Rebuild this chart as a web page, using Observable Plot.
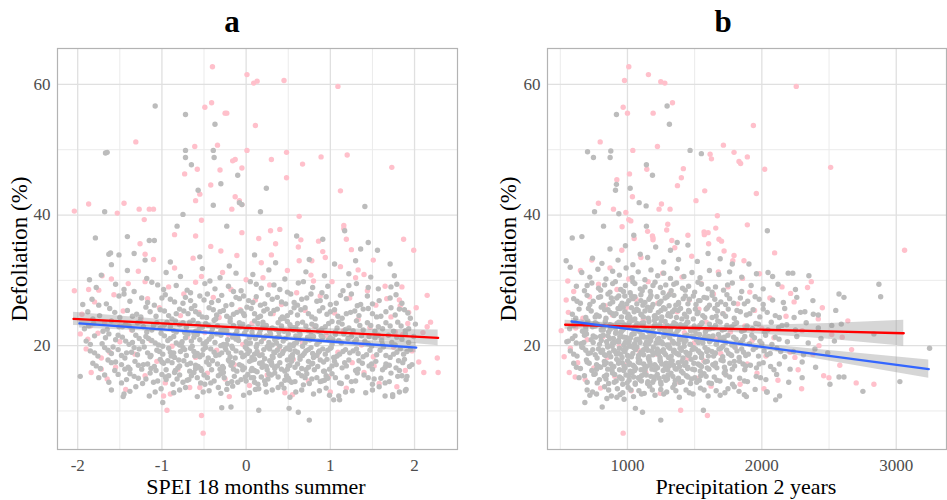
<!DOCTYPE html>
<html><head><meta charset="utf-8">
<script src="https://cdn.jsdelivr.net/npm/d3@7"></script>
<script src="https://cdn.jsdelivr.net/npm/@observablehq/plot@0.6"></script>
<style>
body{margin:0;background:#fff;}
#wrap{position:relative;width:947px;height:500px;overflow:hidden;}
#wrap > svg{position:absolute;top:0;}
</style></head><body><div id="wrap"></div>
<script>
// ---------- shared axis values ----------
const yMajor = [20, 40, 60];
const yMinor = [10, 30, 50];
const aXMajor = [-2, -1, 0, 1, 2];
const aXMinor = [-1.5, -0.5, 0.5, 1.5];
const bXMajor = [1000, 2000, 3000];
const bXMinor = [500, 1500, 2500];

// ---------- panel a: SPEI (x, defoliation) pairs ----------
const aPink = [
-0.40,62.7, 0.01,61.5, 0.09,60.2, 0.13,60.5, 0.45,60.6, 1.09,59.7, -0.41,57.2, -0.49,56.5, -0.25,55.6, -0.23,55.6, 0.11,53.7,
-1.31,51.2, -0.61,50.5, -0.34,50.7, 0.01,49.9, 0.48,49.6, 0.89,48.9, 1.20,49.2, 1.73,47.3, 0.67,47.8, 0.30,48.5, -0.16,48.3, -0.13,48.5,
-0.05,47.2, -0.73,46.3, -0.58,47.0, -0.31,46.9, 0.48,45.7, -0.42,44.6, 1.12,43.7, -0.55,43.2, -0.60,42.2, -0.13,42.8, -0.08,42.2,
-2.04,40.6, -1.87,41.7, -1.45,41.8, -1.27,40.9, -1.15,40.9, -1.10,40.9, -1.53,40.3, -1.21,39.3, -0.17,40.9, -0.05,41.6, -0.53,39.2,
0.63,39.8, 1.16,38.4, 1.16,37.9, 1.19,36.3, 1.87,36.3, 1.99,34.6, 1.51,33.1, 1.33,31.6, 2.15,27.7, 2.02,25.8, 2.19,23.6, 2.27,18.1,
2.28,15.9, 2.11,15.9, 2.15,22.9, 1.92,23.4, -2.04,28.4, -1.97,21.8, -1.88,21.0, -1.84,15.9, -1.72,16.4, -1.87,28.6, -1.71,30.7,
-0.98,12.3, -0.94,10.1, -0.53,9.3, -0.51,6.6, -0.55,13.6, -1.26,35.6, 0.29,37.6, 0.40,37.8, 0.62,35.1, 0.86,36.0, 0.78,33.0, 0.94,33.5,
1.67,27.2, 1.83,26.1,
-1.95,24.8, -1.9,19.5, -1.8,26.7, -1.76,21.9, -1.72,18.1, -1.68,23.5, -1.6,30.2, -1.57,27.8, -1.55,16.7, -1.5,20.6, -1.46,25.3,
-1.43,13.3, -1.4,29.5, -1.36,22.4, -1.32,18.7, -1.28,31.4, -1.25,24.1, -1.2,15.4, -1.17,27.2, -1.13,20.8, -1.1,33.2, -1.06,17.6,
-1.03,25.8, -0.99,22.9, -0.96,14.3, -0.92,29.0, -0.88,19.9, -0.85,31.9, -0.81,16.4, -0.78,24.6, -0.74,27.9, -0.7,21.3, -0.67,13.6,
-0.63,33.4, -0.6,18.2, -0.56,25.1, -0.53,30.6, -0.49,22.0, -0.46,15.8, -0.42,35.2, -0.39,27.4, -0.35,19.3, -0.32,24.3, -0.28,31.2,
-0.25,14.9, -0.21,21.7, -0.18,28.6, -0.14,17.1, -0.11,33.8, -0.07,25.5, -0.04,20.2, 0.0,30.1, 0.04,13.9, 0.07,23.4, 0.11,27.0,
0.14,18.8, 0.18,32.7, 0.21,21.1, 0.25,15.5, 0.28,29.3, 0.32,24.9, 0.35,35.6, 0.39,19.6, 0.42,26.3, 0.46,12.8, 0.49,31.5, 0.53,22.6,
0.56,17.9, 0.6,28.1, 0.63,33.0, 0.67,20.4, 0.7,25.4, 0.74,14.6, 0.77,30.8, 0.81,23.0, 0.84,18.5, 0.88,27.6, 0.91,34.4, 0.95,21.6,
0.98,15.2, 1.02,29.8, 1.05,25.0, 1.09,19.0, 1.12,32.1, 1.16,22.3, 1.19,13.5, 1.23,27.3, 1.26,17.4, 1.3,30.4, 1.33,24.0, 1.37,20.1,
1.4,15.9, 1.44,28.4, 1.47,22.8, 1.51,18.3, 1.54,26.2, 1.58,14.2, 1.61,21.2, 1.65,29.1, 1.68,17.0, 1.72,24.4, 1.75,19.8, 1.79,13.7,
1.82,27.0, 1.86,21.7, 1.89,16.2, 1.93,25.1, 1.97,19.2, 2.05,17.5, 2.1,22.0, -1.65,14.9, -1.85,23.0, -0.2,12.2, 0.55,12.5, 1.0,12.9,
-0.9,12.6, 0.3,33.9, -0.3,34.5, 0.15,36.4, -0.6,36.8, 0.65,36.2, -0.05,37.3, 1.25,34.7, -1.2,34.0, -0.85,37.0,
-1.75,28.5, -1.2,29.8, -0.6,29.7, 0.2,30.4, 0.8,29.9, 1.4,30.9, 1.85,29.0, -1.62,19.0, 1.52,16.9, 1.77,22.1
];
const aGray = [
-1.08,56.7, -0.72,55.4, -0.37,53.9, -1.67,49.5, -1.65,49.6, -0.72,49.9, -0.39,49.9, -0.72,48.8, -0.38,48.8, -0.65,47.7, -0.30,44.8,
-0.10,46.1, 0.24,44.1, -0.57,43.8, -0.08,41.9, -0.05,41.6, -0.39,41.5, 0.17,40.5, -0.75,40.1, -1.68,40.5, 1.41,41.3, 1.17,37.6,
1.45,35.8, 1.56,34.6, 1.36,34.8, 1.71,32.5, 1.76,30.7, 1.79,29.4, 1.82,25.6, 1.88,17.9, 1.91,15.3, 1.89,13.1, 1.74,12.2, 1.65,12.3,
-0.23,38.3, -0.82,38.3, -1.79,36.5, -1.41,36.7, -1.15,36.1, -1.09,36.1, 0.60,36.8, 0.91,36.3, -1.97,15.3, -1.46,12.2, -0.99,11.3,
-0.29,10.5, -0.18,10.6, 0.15,10.1, 0.51,10.4, 0.62,9.8, 0.75,8.6, 1.04,11.7, 1.11,11.7, 0.99,12.4, -1.94,26.3, -1.86,30.1,
-1.63,34.0, -1.61,34.2, -1.51,33.9, -1.33,34.1,
-1.6,32.4, -1.2,33.1, -0.9,32.8, -0.55,33.6, -0.2,32.2, 0.1,33.9, 0.35,32.7, 0.75,33.2, 1.05,32.5, 1.3,33.0,
-1.72,30.8, -1.41,31.5, -1.18,30.3, -0.95,31.2, -0.78,30.6, -0.52,31.8, -0.31,30.4, -0.12,31.1, 0.08,30.9, 0.27,31.6, 0.46,30.2,
0.71,31.3, 0.93,30.7, 1.22,31.0, 1.48,30.5,
-1.78,28.9, -1.55,29.4, -1.33,28.3, -1.12,29.7, -0.98,28.6, -0.83,29.2, -0.66,28.1, -0.49,29.5, -0.37,28.7, -0.21,29.1, -0.06,28.4,
0.05,29.8, 0.18,28.8, 0.33,29.3, 0.49,28.2, 0.62,29.6, 0.79,28.9, 0.97,29.1, 1.15,28.4, 1.31,29.5, 1.57,28.7, 1.72,29.0,
-1.83,27.1, -1.66,26.4, -1.51,27.6, -1.38,26.8, -1.24,27.3, -1.09,26.2, -0.96,27.8, -0.85,26.7, -0.72,27.4, -0.61,26.1, -0.5,27.0,
-0.41,26.6, -0.29,27.7, -0.17,26.3, -0.08,27.2, 0.03,26.9, 0.12,27.5, 0.22,26.4, 0.31,27.1, 0.42,26.7, 0.53,27.9, 0.61,26.2,
0.72,27.3, 0.84,26.8, 0.95,27.5, 1.07,26.5, 1.19,27.2, 1.32,26.1, 1.44,27.6, 1.58,26.9, 1.71,27.3, 1.85,26.5,
-1.88,25.2, -1.74,24.6, -1.62,25.7, -1.5,24.3, -1.41,25.4, -1.3,24.8, -1.19,25.9, -1.07,24.5, -0.97,25.3, -0.88,24.1, -0.79,25.6,
-0.69,24.9, -0.6,25.2, -0.52,24.4, -0.44,25.8, -0.35,24.7, -0.27,25.4, -0.19,24.2, -0.11,25.1, -0.02,24.6, 0.06,25.7, 0.14,24.3,
0.21,25.3, 0.29,24.9, 0.37,25.6, 0.45,24.2, 0.53,25.1, 0.61,24.7, 0.7,25.8, 0.78,24.4, 0.87,25.3, 0.96,24.8, 1.05,25.5, 1.14,24.2,
1.24,25.1, 1.34,24.6, 1.45,25.7, 1.55,24.4, 1.66,25.2, 1.77,24.7, 1.88,25.5, 1.95,24.2,
-1.92,22.6, -1.81,23.4, -1.7,22.2, -1.6,23.8, -1.51,22.9, -1.43,23.3, -1.35,22.4, -1.26,23.7, -1.18,22.1, -1.1,23.1, -1.02,22.7,
-0.94,23.6, -0.86,22.3, -0.79,23.2, -0.71,22.8, -0.63,23.9, -0.56,22.5, -0.48,23.4, -0.41,22.1, -0.34,23.0, -0.26,22.6, -0.19,23.7,
-0.11,22.2, -0.04,23.3, 0.03,22.9, 0.1,23.8, 0.17,22.4, 0.24,23.1, 0.31,22.7, 0.38,23.5, 0.45,22.2, 0.52,23.2, 0.59,22.8, 0.67,23.6,
0.74,22.3, 0.82,23.0, 0.9,22.6, 0.98,23.4, 1.06,22.1, 1.14,23.3, 1.22,22.7, 1.31,23.8, 1.39,22.4, 1.48,23.1, 1.57,22.9, 1.66,23.5,
1.75,22.2, 1.84,23.0, 1.93,22.6, 2.01,23.3,
-1.9,20.7, -1.8,21.5, -1.71,20.3, -1.63,21.8, -1.55,20.9, -1.47,21.3, -1.39,20.2, -1.31,21.6, -1.23,20.6, -1.16,21.1, -1.08,20.4,
-1.01,21.9, -0.93,20.8, -0.86,21.4, -0.79,20.1, -0.72,21.2, -0.65,20.7, -0.58,21.7, -0.51,20.3, -0.44,21.0, -0.37,20.5, -0.3,21.6,
-0.23,20.2, -0.16,21.3, -0.09,20.8, -0.02,21.9, 0.05,20.4, 0.11,21.1, 0.18,20.6, 0.24,21.5, 0.31,20.1, 0.37,21.2, 0.44,20.7,
0.5,21.8, 0.57,20.3, 0.63,21.0, 0.7,20.5, 0.77,21.6, 0.84,20.2, 0.91,21.3, 0.98,20.9, 1.06,21.7, 1.13,20.4, 1.21,21.1, 1.29,20.6,
1.37,21.5, 1.45,20.3, 1.53,21.2, 1.61,20.8, 1.69,21.6, 1.77,20.1, 1.85,21.0, 1.93,20.5, 1.99,21.4, 0.08,21.5,
-1.85,19.2, -1.76,18.4, -1.68,19.7, -1.6,18.8, -1.52,19.4, -1.44,18.1, -1.36,19.0, -1.29,18.6, -1.21,19.8, -1.14,18.3, -1.06,19.3,
-0.99,18.7, -0.92,19.6, -0.85,18.2, -0.78,19.1, -0.71,18.5, -0.64,19.9, -0.58,18.8, -0.51,19.4, -0.45,18.1, -0.38,19.0, -0.32,18.6,
-0.25,19.7, -0.19,18.3, -0.12,19.2, -0.06,18.9, 0.01,19.5, 0.07,18.2, 0.13,19.1, 0.19,18.6, 0.25,19.8, 0.31,18.4, 0.37,19.3,
0.43,18.8, 0.49,19.6, 0.55,18.1, 0.61,19.0, 0.67,18.5, 0.74,19.4, 0.8,18.2, 0.87,19.2, 0.94,18.7, 1.01,19.7, 1.08,18.4, 1.15,19.1,
1.23,18.9, 1.31,19.5, 1.39,18.3, 1.47,19.3, 1.55,18.6, 1.63,19.8, 1.71,18.2, 1.79,19.0, 1.87,18.7, 1.95,19.4, 0.22,18.0, 0.4,19.9,
-0.02,18.5, 0.58,19.2, 0.34,18.9,
-1.82,17.3, -1.73,16.5, -1.64,17.8, -1.56,16.2, -1.48,17.1, -1.4,16.7, -1.32,17.6, -1.24,16.4, -1.17,17.2, -1.09,16.8, -1.02,17.9,
-0.95,16.3, -0.88,17.4, -0.81,16.6, -0.74,17.7, -0.67,16.1, -0.6,17.0, -0.54,16.5, -0.47,17.5, -0.41,16.3, -0.34,17.2, -0.28,16.8,
-0.21,17.8, -0.15,16.4, -0.08,17.1, -0.02,16.6, 0.04,17.6, 0.1,16.2, 0.16,17.3, 0.22,16.9, 0.28,17.7, 0.34,16.5, 0.4,17.4, 0.46,16.1,
0.52,17.0, 0.58,16.7, 0.64,17.9, 0.71,16.3, 0.78,17.2, 0.85,16.8, 0.92,17.5, 0.99,16.4, 1.07,17.1, 1.14,16.6, 1.22,17.8, 1.3,16.2,
1.38,17.3, 1.46,16.9, 1.54,17.6, 1.62,16.3, 1.7,17.0, 1.78,16.6, 1.86,17.4, 1.94,16.8, 0.13,16.0, 0.31,17.0, -0.11,16.1, 0.49,17.8,
-1.75,15.1, -1.63,14.4, -1.52,15.6, -1.42,14.8, -1.33,15.3, -1.23,14.2, -1.14,15.8, -1.05,14.6, -0.96,15.2, -0.87,14.1, -0.79,15.5,
-0.7,14.7, -0.62,15.9, -0.54,14.3, -0.46,15.1, -0.38,14.6, -0.3,15.7, -0.22,14.2, -0.14,15.3, -0.06,14.8, 0.02,15.6, 0.1,14.4,
0.18,15.2, 0.26,14.9, 0.34,15.8, 0.42,14.1, 0.5,15.0, 0.58,14.5, 0.66,15.4, 0.75,14.2, 0.84,15.1, 0.93,14.7, 1.02,15.7, 1.11,14.3,
1.2,15.2, 1.3,14.6, 1.4,15.5, 1.5,14.1, 1.6,15.0, 1.7,14.5, 1.8,15.3, 1.9,14.8,
-1.6,13.2, -1.45,12.6, -1.31,13.7, -1.15,12.3, -1.01,13.4, -0.86,12.8, -0.72,13.6, -0.58,12.2, -0.44,13.1, -0.3,12.7, -0.16,13.8,
-0.03,12.4, 0.11,13.3, 0.24,12.9, 0.38,13.6, 0.52,12.1, 0.66,13.2, 0.8,12.6, 0.95,13.5, 1.1,12.3, 1.26,13.1, 1.42,12.8, 1.58,13.7,
1.74,12.5, 1.9,13.3,
-1.0,27.3, -0.75,26.5, -0.55,27.6, -0.33,26.9, -0.12,27.4, 0.08,26.6, 0.26,27.8, 0.47,26.4, 0.66,27.1, 0.88,26.9, 1.12,27.7, 1.36,26.3,
-1.25,24.4, -1.02,25.5, -0.83,24.9, -0.65,25.7, -0.47,24.3, -0.31,25.2, -0.15,24.8, 0.01,25.9, 0.17,24.5, 0.33,25.4, 0.49,24.6,
0.65,25.5, 0.82,24.1, 1.0,25.2, 1.19,24.9, 1.39,25.6, 1.6,24.5,
-1.47,22.9, -1.29,23.5, -1.12,22.4, -0.97,23.2, -0.83,22.1, -0.67,23.6, -0.52,22.8, -0.38,23.9, -0.23,22.3, -0.08,23.5, 0.07,22.1,
0.2,23.0, 0.35,22.5, 0.49,23.7, 0.63,22.2, 0.78,23.3, 0.94,22.9, 1.1,23.6, 1.27,22.3, 1.44,23.5, 1.62,22.6, 1.8,23.6,
-1.52,21.6, -1.35,20.5, -1.19,21.4, -1.04,20.1, -0.9,21.1, -0.76,20.6, -0.62,21.3, -0.49,20.2, -0.35,21.8, -0.22,20.9, -0.1,21.3,
0.02,20.3, 0.15,21.6, 0.27,20.5, 0.39,21.4, 0.52,20.1, 0.64,21.7, 0.76,20.9, 0.89,21.5, 1.02,20.2, 1.16,21.8, 1.31,20.9, 1.46,21.4,
1.62,20.2, 1.79,21.3,
-1.58,19.8, -1.42,18.9, -1.27,19.5, -1.13,18.5, -0.99,19.9, -0.86,18.9, -0.73,19.4, -0.61,18.4, -0.48,19.7, -0.36,18.5, -0.24,19.4,
-0.13,18.1, -0.01,19.8, 0.1,18.7, 0.21,19.4, 0.32,18.2, 0.44,19.1, 0.55,18.6, 0.67,19.9, 0.79,18.8, 0.91,19.5, 1.04,18.2, 1.18,19.4,
1.33,18.8, 1.49,19.9, 1.66,18.5, 1.83,19.5,
-1.55,17.5, -1.38,16.4, -1.22,17.1, -1.07,16.2, -0.93,17.7, -0.79,16.9, -0.66,17.3, -0.53,16.2, -0.4,17.7, -0.27,16.6, -0.16,17.4,
-0.04,16.3, 0.07,17.8, 0.19,16.7, 0.3,17.5, 0.42,16.4, 0.54,17.6, 0.66,16.5, 0.79,17.3, 0.92,16.1, 1.05,17.6, 1.19,16.9, 1.34,17.7,
1.5,16.4, 1.66,17.2, 1.82,16.2,
-1.38,15.7, -1.19,14.9, -1.0,15.6, -0.82,14.9, -0.65,15.4, -0.49,14.1, -0.33,15.4, -0.17,14.5, -0.01,15.2, 0.14,14.1, 0.3,15.5,
0.46,14.7, 0.62,15.8, 0.78,14.9, 0.95,15.4, 1.13,14.2, 1.32,15.8, 1.52,14.9, 1.72,15.8,
-1.45,28.6, -1.05,29.3, -0.7,28.5, -0.43,29.9, -0.15,28.3, 0.12,29.4, 0.4,28.6, 0.68,29.8, 0.9,28.1, 1.22,29.2, 1.45,28.9,
-1.75,26.2, -1.45,27.9, -1.17,26.6, -0.9,27.1, -0.66,26.9, -0.46,27.9, -0.24,26.1, -0.03,27.6, 0.17,26.2, 0.37,27.4, 0.57,26.6,
0.77,27.9, 1.0,26.3, 1.25,27.9, 1.5,26.4, 1.78,27.8,
-1.82,24.1, -1.56,25.1, -1.35,24.5, -1.14,25.2, -0.92,24.6, -0.74,25.3, -0.56,24.8, -0.39,25.5, -0.23,24.5, -0.06,25.3, 0.1,24.9,
0.25,25.6, 0.41,24.1, 0.57,25.8, 0.74,24.9, 0.91,25.8, 1.09,24.5, 1.29,25.3, 1.5,24.9, 1.72,25.8, 1.92,25.0,
-1.87,23.0, -1.65,22.5, -1.39,23.0, -1.22,22.9, -1.06,23.5, -0.9,22.9, -0.75,23.5, -0.6,22.2, -0.45,23.1, -0.3,22.3, -0.15,23.1,
0.0,22.4, 0.14,23.4, 0.28,22.2, 0.42,23.0, 0.56,22.4, 0.71,23.0, 0.86,22.2, 1.02,23.7, 1.18,22.5, 1.35,23.1, 1.53,22.2, 1.71,23.0,
1.89,22.3,
-1.85,20.2, -1.67,21.2, -1.43,20.7, -1.27,21.1, -1.12,20.8, -0.97,21.5, -0.83,20.4, -0.69,21.8, -0.55,20.9, -0.41,21.4, -0.27,20.2,
-0.13,21.7, 0.0,20.6, 0.13,20.2, 0.21,21.2, 0.34,20.9, 0.47,21.1, 0.6,20.5, 0.73,21.3, 0.87,20.6, 1.0,21.2, 1.1,20.8, 1.25,21.4,
1.41,20.7, 1.57,21.6, 1.73,20.5, 1.89,21.8,
-1.8,18.9, -1.64,19.3, -1.48,18.5, -1.33,19.7, -1.17,18.9, -1.03,19.1, -0.89,18.4, -0.75,19.7, -0.62,19.1, -0.55,18.3, -0.42,19.5,
-0.29,18.9, -0.16,19.6, -0.04,18.3, 0.04,19.2, 0.16,18.5, 0.28,19.5, 0.4,18.5, 0.52,19.4, 0.64,18.3, 0.71,19.2, 0.84,18.5, 0.97,19.3,
1.11,18.7, 1.27,19.2, 1.43,18.6, 1.59,19.3, 1.75,18.7, 1.91,19.1,
-1.78,16.9, -1.6,17.4, -1.44,16.4, -1.28,17.0, -1.13,16.5, -0.98,17.3, -0.84,16.2, -0.7,17.1, -0.57,16.8, -0.44,17.1, -0.31,16.4,
-0.18,17.0, -0.05,16.9, 0.07,16.5, 0.19,17.4, 0.25,16.3, 0.37,16.9, 0.49,16.4, 0.61,17.2, 0.74,16.7, 0.88,17.8, 1.02,16.9, 1.17,17.4,
1.33,16.4, 1.49,17.2, 1.65,16.7, 1.81,17.7, 1.97,17.1,
-1.68,15.5, -1.48,14.3, -1.28,15.0, -1.1,14.4, -0.92,15.4, -0.75,14.4, -0.58,15.1, -0.42,14.3, -0.26,15.1, -0.1,14.4, 0.06,15.1,
0.22,14.6, 0.38,15.2, 0.54,14.4, 0.7,15.1, 0.88,14.5, 1.06,15.1, 1.25,14.5, 1.45,15.1, 1.65,14.3, 1.85,15.4,
-1.38,13.0, -1.08,12.9, -0.79,13.2, -0.51,12.9, -0.23,13.3, 0.04,12.8, 0.31,13.2, 0.59,12.9, 0.87,13.1, 1.18,12.9, 1.5,13.2, 1.82,12.9,
-0.68,14.8, -0.6,16.5, -0.52,18.6, -0.47,20.6, -0.4,22.6, -0.36,24.1, -0.62,21.9, -0.66,19.6, -0.57,23.4, -0.5,15.5,
-0.33,13.6, -0.27,15.9, -0.2,17.6, -0.17,19.9, -0.12,21.0, -0.07,22.9, -0.03,24.9, -0.25,22.1, -0.3,20.0, -0.21,18.9,
0.0,14.6, 0.06,16.2, 0.1,17.9, 0.12,19.8, 0.16,21.9, 0.2,23.6, 0.04,21.2, 0.09,15.1, 0.15,13.4, 0.02,18.8,
0.23,14.1, 0.27,15.7, 0.3,17.2, 0.33,19.0, 0.36,20.4, 0.39,22.1, 0.43,24.4, 0.26,19.9, 0.29,21.8, 0.24,16.8,
0.45,13.5, 0.48,15.4, 0.5,16.9, 0.53,18.3, 0.56,20.0, 0.59,21.5, 0.61,23.4, 0.47,19.5, 0.55,22.8, 0.51,14.7,
0.68,14.0, 0.72,15.7, 0.74,17.6, 0.77,19.7, 0.8,21.4, 0.83,23.0, 0.69,18.8, 0.75,20.9, 0.81,16.3, 0.86,19.0,
0.9,14.6, 0.93,16.1, 0.96,17.9, 1.0,19.6, 1.03,21.0, 1.08,22.7, 0.97,15.0, 1.05,18.2,
-0.85,15.9, -0.8,17.8, -0.77,20.3, -0.73,22.0, -0.84,23.8, -0.9,19.0, -0.95,14.8, -1.0,17.5
];
// fitted lines and 95% bands (x, fit, lower, upper)
const aRedFit  = [-2.05,24.1,23.1,25.1, -1,23.4,22.8,24.0, 0,22.73,22.33,23.13, 0.5,22.4,22.0,22.8, 1,22.06,21.5,22.6, 2.28,21.2,20.0,22.4];
const aBlueFit = [-1.98,23.4,22.7,24.1, -1,22.49,22.14,22.84, 0,21.57,21.32,21.82, 1,20.64,20.29,20.99, 2.02,19.7,18.9,20.5];

// ---------- panel b: precipitation (x, defoliation) pairs ----------
const bPink = [
1010,62.7, 1156,61.5, 978,60.6, 1248,60.4, 1278,60.2, 2256,59.7, 1335,57.2, 968,56.5, 1000,55.6, 1191,55.6, 1937,53.7, 797,51.2,
1223,50.5, 1714,50.7, 1040,49.9, 1615,49.3, 1625,48.6, 1793,49.6, 1892,48.9, 1830,48.2, 1842,47.9, 2512,47.3, 2021,47.0, 1144,47.0,
1416,47.1, 1401,45.7, 921,45.4, 1015,46.3, 1372,44.5, 1575,43.7, 1037,42.8, 1959,43.3, 1510,42.2, 784,41.8, 1253,41.7, 1235,40.9,
1317,40.9, 896,40.9, 988,40.4, 1010,39.3, 1025,39.1, 1669,39.9, 1657,38.0, 1892,38.5, 1292,37.7, 1570,37.4, 1572,37.0, 1681,36.3,
1186,36.8, 1190,36.5, 1330,36.1, 1719,34.5, 2095,34.2, 3062,34.6, 1793,33.8, 1867,33.0, 556,29.9, 544,27.0, 507,22.3, 529,18.3,
567,15.9, 611,15.2, 968,6.6, 1396,10.1, 1595,9.3, 2016,13.4, 2296,13.4, 2702,14.3, 2834,14.1, 2668,19.4, 2598,21.3, 2499,15.1,
2425,20.0, 2246,18.2, 2368,29.8, 2214,28.0, 2450,25.8,
560,25.1, 575,19.6, 600,28.3, 615,22.7, 630,17.4, 650,31.5, 668,24.2, 685,14.8, 700,20.9, 718,27.5, 735,33.1, 750,16.6, 768,23.3,
785,29.4, 800,13.5, 818,21.4, 835,26.1, 852,18.2, 870,31.9, 888,24.7, 905,15.3, 922,28.6, 940,20.0, 958,34.6, 975,17.1, 992,25.8,
1010,30.2, 1028,13.1, 1046,22.4, 1064,27.1, 1082,19.3, 1100,33.5, 1118,24.0, 1136,15.9, 1154,29.8, 1172,21.5, 1190,36.2, 1208,18.7,
1226,26.5, 1244,12.7, 1262,31.1, 1280,23.1, 1298,16.4, 1316,28.0, 1334,20.6, 1352,35.0, 1370,25.2, 1388,14.4, 1406,30.5, 1424,22.0,
1442,18.0, 1460,27.0, 1478,33.7, 1496,20.4, 1514,15.0, 1532,25.6, 1550,29.5, 1568,17.7, 1586,23.6, 1604,35.6, 1622,13.8, 1640,27.9,
1658,21.0, 1676,31.3, 1694,18.8, 1712,24.9, 1730,15.6, 1748,29.0, 1766,22.1, 1784,33.0, 1802,19.7, 1820,26.4, 1838,14.1, 1856,30.3,
1874,23.0, 1892,17.2, 1910,28.2, 1928,20.8, 1946,25.4, 1964,15.8, 1982,31.0, 2000,22.6, 2030,18.4, 2060,27.3, 2090,21.2, 2120,14.7,
2150,29.0, 2180,24.5, 2210,19.0, 2240,26.7, 2270,16.3, 2300,22.3, 2340,28.9, 2380,18.7, 2420,24.1, 2460,15.4, 2520,21.7, 2580,17.0,
2640,23.8, 1050,36.4, 1150,37.5, 1300,38.6, 1450,36.9, 960,38.2, 1600,37.3, 1700,36.0
];
const bGray = [
1295,56.7, 918,55.4, 1312,53.9, 703,49.7, 747,48.8, 876,49.8, 871,48.8, 1466,49.9, 1550,49.4, 1141,47.7, 1186,46.1, 918,44.7,
911,43.8, 1020,44.1, 1087,41.9, 1139,41.4, 936,40.2, 755,40.5, 822,38.3, 1141,38.3, 1047,36.9, 589,36.5, 661,36.7, 2041,37.6,
1904,32.5, 2046,31.2, 2196,31.1, 2230,31.1, 2350,30.7, 2871,29.4, 2884,27.5, 2574,27.9, 2611,27.4, 2834,21.8, 3248,19.6, 3027,14.5,
2752,13.0, 2507,14.1, 2574,15.2, 2611,15.2, 2591,23.3, 2383,24.8, 2288,25.1, 2103,11.7, 2132,12.3, 2036,12.9, 1885,12.2, 1748,13.4,
1565,10.1, 1248,8.6, 1112,9.8, 1059,10.4, 683,11.3, 720,12.4, 812,10.6, 847,11.9, 921,12.1, 975,11.8, 544,33.0, 574,32.0, 549,20.6,
619,20.4,
740,33.4, 810,32.6, 870,34.8, 930,33.1, 985,35.3, 1040,32.4, 1095,34.0, 1150,33.5, 1210,35.1, 1270,32.8, 1320,34.6, 1380,33.2,
1450,35.4, 1520,32.9, 1600,34.1, 1690,33.3, 1780,32.5, 1370,35.8,
660,31.2, 720,30.5, 780,31.7, 840,30.2, 890,31.4, 940,30.8, 990,31.9, 1035,30.4, 1080,31.3, 1130,30.1, 1175,31.6, 1225,30.7,
1270,31.1, 1320,30.3, 1370,31.8, 1420,30.6, 1480,31.2, 1540,30.4, 1610,31.5, 1680,30.9, 1760,31.3, 1850,30.5, 1960,31.0, 2080,30.6,
620,29.1, 680,28.4, 735,29.6, 785,28.8, 830,29.3, 870,28.2, 910,29.8, 950,28.6, 985,29.2, 1020,28.1, 1055,29.5, 1095,28.7,
1130,29.0, 1170,28.3, 1205,29.7, 1245,28.9, 1285,29.3, 1325,28.4, 1365,29.6, 1410,28.8, 1455,29.1, 1500,28.2, 1550,29.4, 1600,28.7,
1655,29.0, 1715,28.5, 1780,29.6, 1850,28.3, 1920,29.2, 2010,28.7, 2120,29.4, 2250,28.6,
600,27.2, 650,26.5, 700,27.7, 745,26.8, 785,27.4, 820,26.2, 855,27.9, 890,26.7, 920,27.3, 950,26.1, 980,27.6, 1010,26.9,
1040,27.2, 1070,26.4, 1100,27.8, 1130,26.6, 1160,27.1, 1190,26.3, 1220,27.5, 1250,26.8, 1280,27.3, 1310,26.1, 1345,27.7, 1380,26.6,
1415,27.2, 1450,26.4, 1490,27.6, 1530,26.9, 1570,27.4, 1610,26.2, 1650,27.1, 1695,26.7, 1740,27.8, 1790,26.5, 1840,27.3, 1895,26.8,
1950,27.5, 2010,26.3, 2080,27.0, 2160,26.6, 2260,27.4, 2380,26.9,
590,24.8, 640,25.6, 690,24.3, 730,25.3, 770,24.7, 805,25.9, 840,24.2, 870,25.1, 900,24.6, 930,25.7, 955,24.4, 980,25.2, 1005,24.8,
1030,25.8, 1055,24.1, 1080,25.4, 1105,24.7, 1130,25.3, 1155,24.2, 1180,25.9, 1205,24.6, 1230,25.1, 1255,24.4, 1280,25.6, 1305,24.9,
1335,25.2, 1365,24.3, 1395,25.7, 1425,24.8, 1455,25.4, 1490,24.1, 1525,25.1, 1560,24.6, 1595,25.8, 1630,24.3, 1670,25.3, 1710,24.9,
1750,25.6, 1795,24.2, 1840,25.2, 1885,24.7, 1935,25.5, 1985,24.4, 2040,25.1, 2100,24.6, 2170,25.7, 2240,24.3, 2320,25.2, 2420,24.7,
2550,25.4,
570,22.6, 620,23.4, 665,22.2, 705,23.8, 740,22.9, 775,23.3, 805,22.4, 835,23.7, 860,22.1, 885,23.1, 910,22.7, 935,23.6, 958,22.3,
980,23.2, 1002,22.8, 1025,23.9, 1048,22.5, 1070,23.4, 1092,22.1, 1115,23.0, 1138,22.6, 1160,23.7, 1183,22.2, 1206,23.3, 1229,22.9,
1252,23.8, 1275,22.4, 1298,23.1, 1322,22.7, 1346,23.5, 1370,22.2, 1395,23.2, 1420,22.8, 1445,23.6, 1470,22.3, 1497,23.0, 1524,22.6,
1552,23.4, 1580,22.1, 1610,23.3, 1640,22.7, 1672,23.8, 1705,22.4, 1740,23.1, 1775,22.9, 1812,23.5, 1850,22.2, 1890,23.0, 1930,22.6,
1975,23.3, 2020,22.1, 2070,23.6, 2125,22.8, 2185,23.2, 2250,22.4, 2330,23.5, 2420,22.7, 2520,23.1, 950,22.0, 1200,23.9,
560,20.7, 610,21.5, 655,20.3, 695,21.8, 730,20.9, 762,21.3, 792,20.2, 820,21.6, 845,20.6, 868,21.1, 890,20.4, 912,21.9, 933,20.8,
953,21.4, 973,20.1, 993,21.2, 1013,20.7, 1033,21.7, 1053,20.3, 1073,21.0, 1093,20.5, 1113,21.6, 1133,20.2, 1153,21.3, 1173,20.8,
1193,21.9, 1213,20.4, 1233,21.1, 1253,20.6, 1273,21.5, 1294,20.1, 1315,21.2, 1336,20.7, 1357,21.8, 1378,20.3, 1400,21.0, 1422,20.5,
1444,21.6, 1467,20.2, 1490,21.3, 1513,20.9, 1537,21.7, 1561,20.4, 1586,21.1, 1611,20.6, 1637,21.5, 1663,20.3, 1690,21.2, 1718,20.8,
1747,21.6, 1777,20.1, 1808,21.0, 1840,20.5, 1873,21.4, 1908,20.3, 1945,21.2, 1985,20.7, 2028,21.6, 2075,20.2, 2128,21.0, 2190,20.6,
2260,21.4, 2345,20.4, 2440,21.1, 2540,20.7,
575,19.2, 625,18.4, 668,19.7, 708,18.8, 742,19.4, 774,18.1, 803,19.0, 829,18.6, 853,19.8, 876,18.3, 898,19.3, 919,18.7, 940,19.6,
960,18.2, 980,19.1, 1000,18.5, 1020,19.9, 1040,18.8, 1060,19.4, 1080,18.1, 1100,19.0, 1120,18.6, 1140,19.7, 1160,18.3, 1180,19.2,
1200,18.9, 1221,19.5, 1242,18.2, 1263,19.1, 1284,18.6, 1305,19.8, 1326,18.4, 1347,19.3, 1369,18.8, 1391,19.6, 1413,18.1, 1435,19.0,
1458,18.5, 1481,19.4, 1504,18.2, 1528,19.2, 1552,18.7, 1577,19.7, 1602,18.4, 1628,19.1, 1654,18.9, 1681,19.5, 1709,18.3, 1738,19.3,
1768,18.6, 1799,19.8, 1831,18.2, 1864,19.0, 1899,18.7, 1936,19.4, 1975,18.4, 2017,19.2, 2062,18.8, 2112,19.6, 2170,18.3, 2235,19.1,
2310,18.6, 2395,19.5, 2490,18.9,
600,17.3, 650,16.5, 695,17.8, 735,16.2, 770,17.1, 800,16.7, 828,17.6, 853,16.4, 877,17.2, 899,16.8, 920,17.9, 941,16.3, 961,17.4,
981,16.6, 1001,17.7, 1021,16.1, 1041,17.0, 1061,16.5, 1081,17.5, 1101,16.3, 1121,17.2, 1141,16.8, 1161,17.8, 1182,16.4, 1203,17.1,
1224,16.6, 1245,17.6, 1266,16.2, 1288,17.3, 1310,16.9, 1332,17.7, 1355,16.5, 1378,17.4, 1401,16.1, 1425,17.0, 1449,16.7, 1474,17.9,
1499,16.3, 1525,17.2, 1551,16.8, 1578,17.5, 1606,16.4, 1635,17.1, 1665,16.6, 1696,17.8, 1728,16.2, 1762,17.3, 1797,16.9, 1834,17.6,
1873,16.3, 1915,17.0, 1960,16.6, 2010,17.4, 2065,16.8, 2130,17.2, 2210,16.4, 2300,17.5, 2400,16.7,
640,15.1, 700,14.4, 750,15.6, 792,14.8, 828,15.3, 860,14.2, 889,15.8, 916,14.6, 941,15.2, 965,14.1, 989,15.5, 1012,14.7, 1035,15.9,
1058,14.3, 1081,15.1, 1104,14.6, 1127,15.7, 1150,14.2, 1174,15.3, 1198,14.8, 1222,15.6, 1247,14.4, 1272,15.2, 1298,14.9, 1324,15.8,
1351,14.1, 1379,15.0, 1408,14.5, 1438,15.4, 1469,14.2, 1501,15.1, 1535,14.7, 1570,15.7, 1607,14.3, 1646,15.2, 1688,14.6, 1733,15.5,
1782,14.1, 1835,15.0, 1893,14.5, 1958,15.3, 2030,14.8, 2110,15.6, 2200,14.4, 2300,15.1,
700,13.2, 770,12.6, 830,13.7, 880,12.3, 925,13.4, 965,12.8, 1005,13.6, 1045,12.2, 1085,13.1, 1125,12.7, 1165,13.8, 1205,12.4,
1248,13.3, 1292,12.9, 1338,13.6, 1386,12.1, 1436,13.2, 1488,12.6, 1543,13.5, 1600,12.3, 1660,13.1, 1725,12.8, 1795,13.7, 1870,12.5,
1950,13.3, 2040,12.9,
880,27.3, 960,26.5, 1030,27.6, 1100,26.9, 1170,27.4, 1240,26.6, 1310,27.8, 1380,26.4, 1460,27.1, 1540,26.9, 1630,27.7, 1730,26.3,
760,24.4, 830,25.5, 890,24.9, 945,25.7, 1000,24.3, 1050,25.2, 1100,24.8, 1150,25.9, 1200,24.5, 1250,25.4, 1300,24.6, 1350,25.5,
1405,24.1, 1460,25.2, 1520,24.9, 1585,25.6, 1660,24.5,
690,22.9, 760,23.5, 820,22.4, 870,23.2, 915,22.1, 960,23.6, 1000,22.8, 1040,23.9, 1080,22.3, 1120,23.5, 1160,22.1, 1200,23.0,
1240,22.5, 1280,23.7, 1320,22.2, 1360,23.3, 1405,22.9, 1450,23.6, 1500,22.3, 1555,23.5, 1615,22.6, 1690,23.6,
680,21.6, 745,20.5, 800,21.4, 850,20.1, 895,21.1, 935,20.6, 975,21.3, 1012,20.2, 1050,21.8, 1087,20.9, 1123,21.3, 1160,20.3,
1197,21.6, 1234,20.5, 1271,21.4, 1309,20.1, 1347,21.7, 1386,20.9, 1426,21.5, 1467,20.2, 1510,21.8, 1556,20.9, 1605,21.4, 1660,20.2,
1720,21.3,
660,19.8, 725,18.9, 785,19.5, 838,18.5, 886,19.9, 930,18.9, 970,19.4, 1008,18.4, 1046,19.7, 1083,18.5, 1120,19.4, 1156,18.1,
1193,19.8, 1230,18.7, 1267,19.4, 1305,18.2, 1343,19.1, 1382,18.6, 1422,19.9, 1463,18.8, 1506,19.5, 1551,18.2, 1600,19.4, 1652,18.8,
1710,19.9, 1775,18.5, 1850,19.5,
700,17.5, 770,16.4, 830,17.1, 885,16.2, 932,17.7, 975,16.9, 1015,17.3, 1053,16.2, 1091,17.7, 1129,16.6, 1167,17.4, 1205,16.3,
1243,17.8, 1282,16.7, 1322,17.5, 1363,16.4, 1405,17.6, 1448,16.5, 1494,17.3, 1542,16.1, 1594,17.6, 1650,16.9, 1712,17.7, 1780,16.4,
1860,17.2,
760,15.7, 840,14.9, 905,15.6, 960,14.9, 1010,15.4, 1058,14.1, 1105,15.4, 1152,14.5, 1200,15.2, 1250,14.1, 1302,15.5, 1356,14.7,
1414,15.8, 1476,14.9, 1545,15.4, 1625,14.2, 1720,15.8,
700,29.2, 800,28.5, 890,29.5, 970,28.3, 1040,29.8, 1110,28.4, 1190,29.2, 1265,28.1, 1345,29.4, 1430,28.5, 1525,29.7, 1630,28.2, 1745,29.3,
625,26.8, 720,26.3, 800,27.5, 870,26.4, 935,27.6, 995,26.4, 1055,27.5, 1115,26.2, 1175,27.7, 1235,26.4, 1295,27.5, 1360,26.2,
1430,27.6, 1510,26.3, 1590,27.3, 1670,26.3, 1760,27.2, 1870,26.4, 1980,27.1,
615,24.2, 710,25.7, 790,24.5, 855,25.5, 915,24.9, 968,25.9, 1018,24.4, 1068,25.6, 1118,24.4, 1168,25.4, 1218,24.2, 1268,25.8,
1320,24.5, 1378,25.4, 1440,24.4, 1505,25.6, 1575,24.3, 1650,25.7, 1730,24.5, 1815,25.4, 1910,24.9, 2010,25.6, 2130,24.3,
600,23.1, 690,22.4, 760,23.0, 820,22.9, 872,22.5, 922,23.4, 970,22.5, 1013,23.5, 1058,22.9, 1104,23.4, 1148,22.4, 1194,22.7,
1240,23.2, 1286,22.2, 1334,23.1, 1382,22.5, 1432,23.2, 1484,22.5, 1538,23.1, 1595,22.5, 1655,23.1, 1722,22.5, 1795,23.3, 1870,22.4,
1955,23.4, 2045,22.4, 2150,23.1,
590,21.1, 675,20.5, 745,21.5, 805,20.8, 855,21.5, 903,20.5, 943,21.4, 983,20.5, 1023,21.2, 1063,20.9, 1103,21.4, 1143,20.6,
1183,21.4, 1223,20.9, 1263,20.3, 1303,21.7, 1345,20.4, 1390,21.3, 1435,20.8, 1480,21.5, 1528,20.5, 1575,21.4, 1625,20.9, 1677,21.7,
1732,20.5, 1790,21.3, 1858,20.9, 1925,21.6, 2000,20.3, 2100,21.3,
600,18.7, 690,19.3, 760,18.6, 815,19.3, 865,18.9, 908,19.1, 950,18.7, 990,19.6, 1030,18.3, 1070,19.8, 1110,18.8, 1150,19.3,
1190,18.6, 1232,19.2, 1274,18.9, 1316,19.6, 1358,18.9, 1402,19.3, 1446,18.6, 1492,19.7, 1540,18.9, 1590,19.1, 1641,18.4, 1695,19.6,
1752,18.8, 1815,19.2, 1880,18.5, 1955,19.7, 2040,18.6, 2140,19.1,
620,16.7, 715,17.3, 785,16.8, 842,17.4, 890,16.7, 934,17.3, 972,16.2, 1011,17.1, 1051,16.8, 1091,17.4, 1131,16.3, 1171,17.0,
1212,16.8, 1255,17.2, 1298,16.3, 1342,17.0, 1388,16.8, 1435,17.4, 1485,16.4, 1538,17.0, 1594,16.6, 1655,17.3, 1722,16.7, 1795,17.6,
1880,16.9, 1980,17.2, 2090,16.3,
680,15.4, 775,14.3, 845,15.5, 902,14.4, 952,15.0, 998,14.3, 1045,15.2, 1092,14.8, 1140,15.5, 1188,14.4, 1236,15.0, 1286,14.7,
1338,15.3, 1392,14.4, 1450,15.2, 1515,14.4, 1585,15.3, 1665,14.7, 1760,15.2, 1870,14.6, 1990,15.1,
740,12.9, 860,13.2, 945,12.5, 1025,13.2, 1105,12.6, 1185,13.2, 1270,12.6, 1360,13.1, 1460,12.8, 1570,13.2, 1690,12.4, 1830,13.0
];
const bRedFit  = [536,23.2,22.5,23.9, 1000,22.96,22.56,23.36, 1500,22.7,22.35,23.05, 2000,22.44,21.74,23.14, 2500,22.19,20.99,23.39, 3056,21.9,19.9,23.9];
const bBlueFit = [584,23.7,23.2,24.2, 1000,22.56,22.31,22.81, 1500,21.18,20.98,21.38, 2000,19.81,19.41,20.21, 2500,18.44,17.64,19.24, 3242,16.4,15.0,17.8];

// ---------- helpers ----------
function pts(flat){const o=[];for(let i=0;i<flat.length;i+=2)o.push({x:flat[i],y:flat[i+1]});return o;}
function fit(flat){const o=[];for(let i=0;i<flat.length;i+=4)o.push({x:flat[i],y:flat[i+1],lo:flat[i+2],hi:flat[i+3]});return o;}

const FONT = "'Liberation Serif', 'DejaVu Serif', serif";
const PINK = "#ffc0cb", GRAY = "#bcbcbc";

function panel({width, marginLeft, marginRight, xDomain, xMajor, xMinor, pink, gray, red, blue}){
  return Plot.plot({
    width, height: 500,
    marginLeft, marginRight, marginTop: 48, marginBottom: 51,
    style: {fontFamily: FONT, fontSize: "17px", color: "#4d4d4d", background: "transparent"},
    x: {domain: xDomain, ticks: xMajor, tickFormat: d => String(d), tickSize: 0, tickPadding: 9, label: null},
    y: {domain: [4.1, 65.5], ticks: yMajor, tickFormat: d => String(d), tickSize: 0, tickPadding: 7, label: null},
    marks: [
      Plot.ruleX(xMinor, {stroke: "#ebebeb", strokeWidth: 1}),
      Plot.ruleY(yMinor, {stroke: "#ebebeb", strokeWidth: 1}),
      Plot.ruleX(xMajor, {stroke: "#e0e0e0", strokeWidth: 1.3}),
      Plot.ruleY(yMajor, {stroke: "#e0e0e0", strokeWidth: 1.3}),
      Plot.dot(pts(pink), {x: "x", y: "y", r: 2.7, fill: PINK, stroke: "none"}),
      Plot.dot(pts(gray), {x: "x", y: "y", r: 2.7, fill: GRAY, stroke: "none"}),
      Plot.areaY(fit(red), {x: "x", y1: "lo", y2: "hi", fill: "#999999", fillOpacity: 0.4}),
      Plot.areaY(fit(blue), {x: "x", y1: "lo", y2: "hi", fill: "#999999", fillOpacity: 0.4}),
      Plot.line(fit(red), {x: "x", y: "y", stroke: "#ff0000", strokeWidth: 2.3}),
      Plot.line(fit(blue), {x: "x", y: "y", stroke: "#3366ff", strokeWidth: 2.3}),
      Plot.frame({stroke: "#b3b3b3", strokeWidth: 1.2})
    ]
  });
}

const wrap = document.getElementById("wrap");
const pa = panel({width: 470, marginLeft: 57, marginRight: 13, xDomain: [-2.24, 2.51], xMajor: aXMajor, xMinor: aXMinor,
  pink: aPink, gray: aGray, red: aRedFit, blue: aBlueFit});
pa.style.left = "0px";
wrap.appendChild(pa);
const pb = panel({width: 477, marginLeft: 77, marginRight: 1, xDomain: [405, 3374], xMajor: bXMajor, xMinor: bXMinor,
  pink: bPink, gray: bGray, red: bRedFit, blue: bBlueFit});
pb.style.left = "470px";
wrap.appendChild(pb);

// titles and axis titles
const ov = d3.select(wrap).append("svg").attr("width", 947).attr("height", 500)
  .style("left", "0px").style("pointer-events", "none").style("font-family", FONT);
const panelTitles = ["a", "b"];
const xTitles = ["SPEI 18 months summer", "Precipitation 2 years"];
const yTitle = "Defoliation (%)";
[[232, 256, 19], [723, 746, 508]].forEach(([tx, xx, yx], i) => {
  ov.append("text").attr("x", tx).attr("y", 32).attr("text-anchor", "middle")
    .attr("font-size", 31).attr("font-weight", "bold").attr("fill", "#000").text(panelTitles[i]);
  ov.append("text").attr("x", xx).attr("y", 494).attr("text-anchor", "middle")
    .attr("font-size", 22).attr("fill", "#000").text(xTitles[i]);
  ov.append("text").attr("transform", `translate(${yx + 8},249) rotate(-90)`).attr("text-anchor", "middle")
    .attr("font-size", 23).attr("fill", "#000").text(yTitle);
});
</script>
</body></html>
